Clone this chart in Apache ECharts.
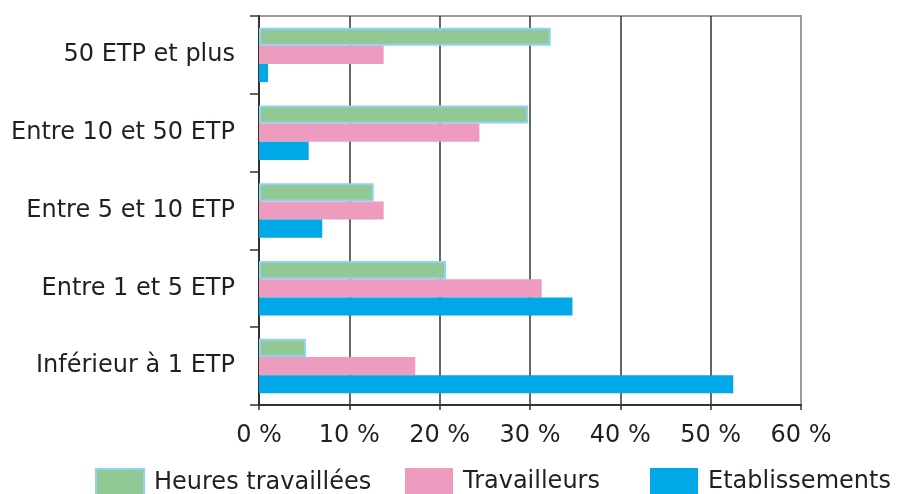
<!DOCTYPE html>
<html>
<head>
<meta charset="utf-8">
<script src="https://cdn.jsdelivr.net/npm/echarts@6/dist/echarts.min.js"></script>
<style>
  html, body { margin: 0; padding: 0; background: #fff; }
  #chart { width: 902px; height: 494px; }
</style>
</head>
<body>
<div id="chart"></div>
<script>
// categories, bottom to top
const categories = ['Inférieur à 1 ETP', 'Entre 1 et 5 ETP', 'Entre 5 et 10 ETP', 'Entre 10 et 50 ETP', '50 ETP et plus']
const seriesNames = ['Heures travaillées', 'Travailleurs', 'Etablissements']
const heures = [5.2, 20.7, 12.7, 29.8, 32.3]
const travailleurs = [17.3, 31.3, 13.8, 24.4, 13.8]
const etablissements = [52.5, 34.7, 7.0, 5.5, 1.0]
const xTicks = [0, 10, 20, 30, 40, 50, 60]

const font = 'DejaVu Sans'
const textColor = '#231f20'

// one legend per item so the uneven spacing of the original can be kept
const legendLeft = [90, 400, 645]
const legends = seriesNames.map((name, i) => ({
  data: [name],
  icon: 'rect',
  left: legendLeft[i],
  top: 463,
  itemWidth: 48,
  itemHeight: 28,
  textStyle: { fontFamily: font, fontSize: 24, color: textColor, padding: [0, 0, 0, 5] }
}))

const chart = echarts.init(document.getElementById('chart'))
chart.setOption({
  animation: false,
  textStyle: { fontFamily: font },
  grid: {
    left: 259, right: 101, top: 16, bottom: 89,
    show: true,
    borderColor: '#9b9b9b',
    borderWidth: 2
  },
  legend: legends,
  xAxis: {
    type: 'value',
    min: xTicks[0],
    max: xTicks[xTicks.length - 1],
    interval: 10,
    axisLine: { show: true, lineStyle: { color: '#333', width: 2 } },
    axisTick: { show: true, length: 5, lineStyle: { color: '#333', width: 1.5 } },
    axisLabel: {
      margin: 19,
      fontSize: 24,
      color: textColor,
      formatter: v => v + ' %'
    },
    splitLine: {
      show: true,
      lineStyle: { color: ['#333', '#333', '#333', '#333', '#333', '#333', '#9b9b9b'], width: 1.5 }
    }
  },
  yAxis: {
    type: 'category',
    data: categories,
    axisLine: { show: true, lineStyle: { color: '#333', width: 2 } },
    axisTick: { show: true, length: 9, lineStyle: { color: '#333', width: 1.5 } },
    axisLabel: { margin: 24, fontSize: 24, color: textColor }
  },
  series: [
    {
      name: seriesNames[0],
      type: 'bar',
      data: heures,
      barGap: '0%',
      barCategoryGap: '30%',
      itemStyle: { color: '#92c893', borderColor: '#8fd3f4', borderWidth: 2 }
    },
    {
      name: seriesNames[1],
      type: 'bar',
      data: travailleurs,
      barGap: '0%',
      barCategoryGap: '30%',
      itemStyle: { color: '#ee9bc0' }
    },
    {
      name: seriesNames[2],
      type: 'bar',
      data: etablissements,
      barGap: '0%',
      barCategoryGap: '30%',
      itemStyle: { color: '#00a8e8' }
    }
  ]
})
</script>
</body>
</html>
